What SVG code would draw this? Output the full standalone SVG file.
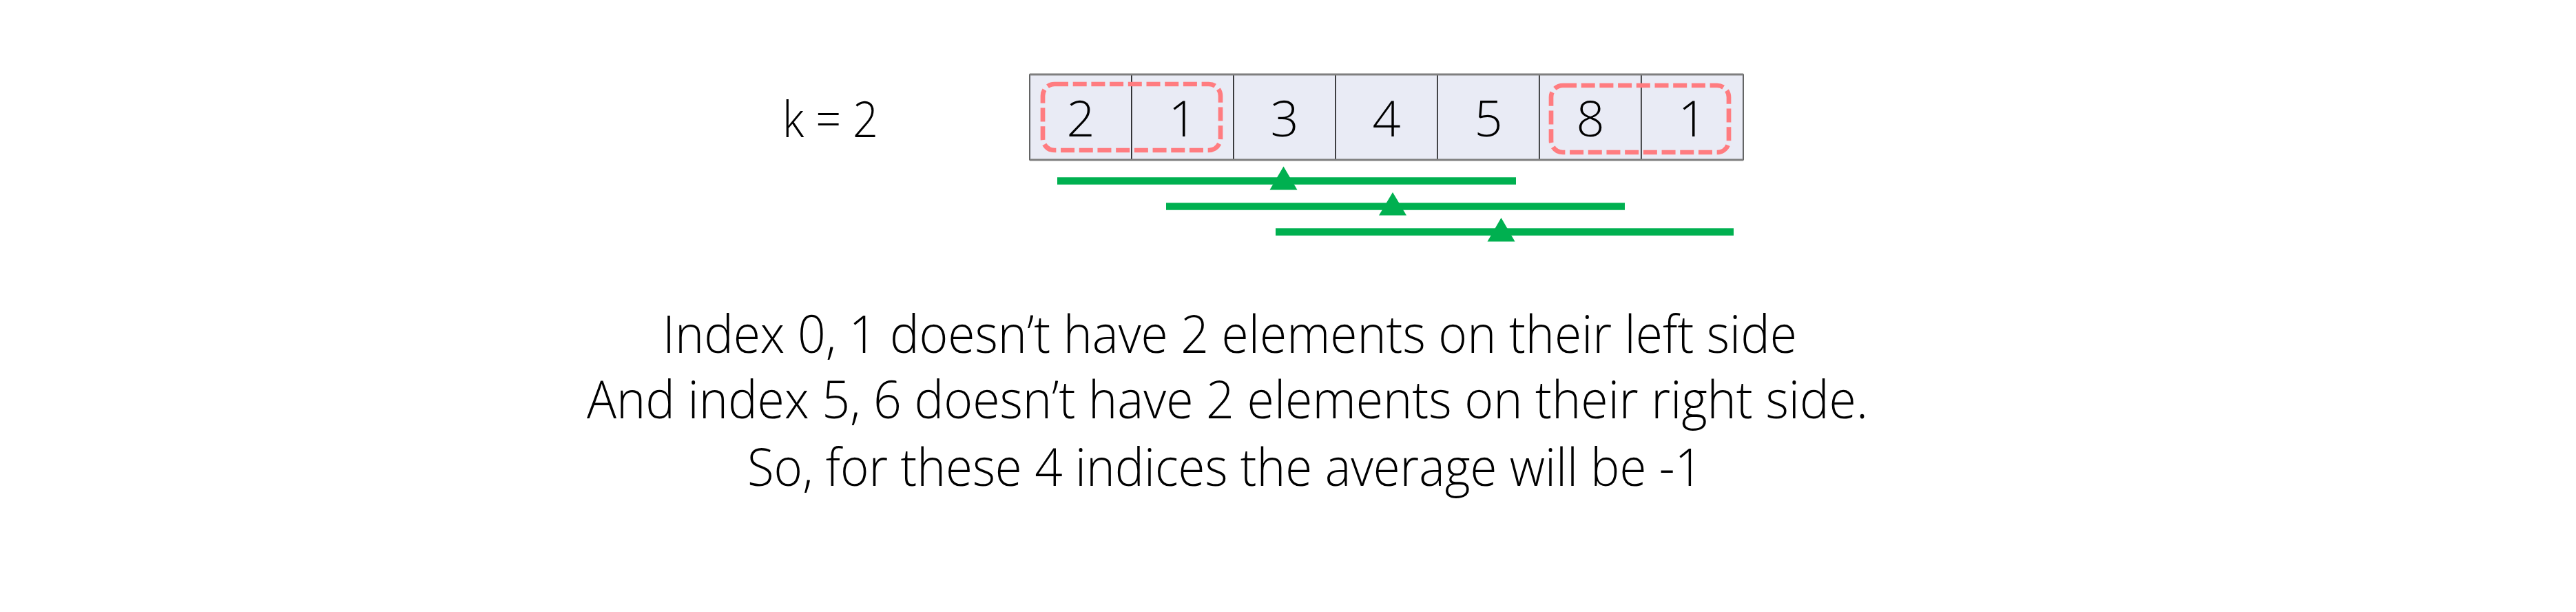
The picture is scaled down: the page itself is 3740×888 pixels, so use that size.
<svg xmlns="http://www.w3.org/2000/svg" width="3740" height="888" viewBox="0 0 3740 888">
  <style>
    .cell { fill: #E9EBF5; stroke: #000000; stroke-width: 1.2; }
    .edge { stroke: #7F7F7F; stroke-width: 3; }
    .num { font-family: "Open Sans", "Lato", "Liberation Sans", sans-serif; font-weight: 300; font-size: 72px; fill: #000000; text-anchor: middle; }
    .lbl { font-family: "Open Sans", "Lato", "Liberation Sans", sans-serif; font-weight: 300; font-size: 72px; fill: #000000; }
    .note { font-family: "Open Sans", "Lato", "Liberation Sans", sans-serif; font-weight: 300; font-size: 76px; fill: #000000; }
    .hl { fill: none; stroke: #FF7C80; stroke-width: 6.7; stroke-dasharray: 20 6.7; }
    .range { stroke: #00B050; stroke-width: 10.7; }
    .tri { fill: #00B050; }
  </style>
  <rect width="3740" height="888" fill="#FFFFFF"/>

  <g id="label-k">
    <text class="lbl" x="1136" y="199" textLength="139" lengthAdjust="spacingAndGlyphs">k = 2</text>
  </g>

  <g id="array">
    <g id="cell-0"><rect class="cell" x="1495" y="108" width="148" height="124"/><text class="num" x="1569" y="198">2</text></g>
    <g id="cell-1"><rect class="cell" x="1643" y="108" width="148" height="124"/><text class="num" x="1717" y="198">1</text></g>
    <g id="cell-2"><rect class="cell" x="1791" y="108" width="148" height="124"/><text class="num" x="1865" y="198">3</text></g>
    <g id="cell-3"><rect class="cell" x="1939" y="108" width="148" height="124"/><text class="num" x="2013" y="198">4</text></g>
    <g id="cell-4"><rect class="cell" x="2087" y="108" width="148" height="124"/><text class="num" x="2161" y="198">5</text></g>
    <g id="cell-5"><rect class="cell" x="2235" y="108" width="148" height="124"/><text class="num" x="2309" y="198">8</text></g>
    <g id="cell-6"><rect class="cell" x="2383" y="108" width="148" height="124"/><text class="num" x="2457" y="198">1</text></g>
    <line class="edge" x1="1495" y1="108" x2="2531" y2="108"/>
    <line class="edge" x1="1495" y1="232" x2="2531" y2="232"/>
  </g>

  <g id="highlight-left">
    <rect class="hl" x="1514" y="122" width="258" height="96" rx="17" ry="17"/>
  </g>
  <g id="highlight-right">
    <rect class="hl" x="2252" y="124" width="258" height="97" rx="17" ry="17"/>
  </g>

  <g id="connectors">
    <g id="range-1">
      <line class="range" x1="1535" y1="262.5" x2="2201" y2="262.5"/>
      <polygon class="tri" points="1863.5,241.5 1843.5,275.5 1883.5,275.5"/>
    </g>
    <g id="range-2">
      <line class="range" x1="1693" y1="299.5" x2="2359" y2="299.5"/>
      <polygon class="tri" points="2022,279 2002,312.5 2042,312.5"/>
    </g>
    <g id="range-3">
      <line class="range" x1="1852" y1="336.5" x2="2517" y2="336.5"/>
      <polygon class="tri" points="2179.5,316 2159.5,350.5 2199.5,350.5"/>
    </g>
  </g>

  <g id="explanation">
    <text class="note" x="962" y="512" textLength="1647" lengthAdjust="spacingAndGlyphs">Index 0, 1 doesn’t have 2 elements on their left side</text>
    <text class="note" x="852" y="607" textLength="1860" lengthAdjust="spacingAndGlyphs">And index 5, 6 doesn’t have 2 elements on their right side.</text>
    <text class="note" x="1085" y="705" textLength="1387" lengthAdjust="spacingAndGlyphs">So, for these 4 indices the average will be -1</text>
  </g>
</svg>
